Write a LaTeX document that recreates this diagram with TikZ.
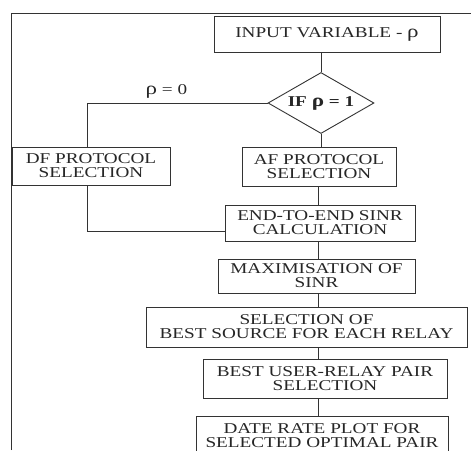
\documentclass[tikz,border=0pt]{standalone}
\usepackage{fontspec}
\setmainfont{Liberation Serif}[FakeStretch=1.28]
\usetikzlibrary{shapes.geometric}
\tikzset{
  fc/.style={x=1pt, y=-1pt, line width=0.9pt, draw=black!80,
             every node/.style={font=\fontsize{15}{14}\selectfont, text=black!85, align=center, inner sep=0pt}},
  blk/.style={draw, rectangle},
  dec/.style={draw, diamond, shape aspect=1.7, minimum width=106, minimum height=61},
  lbl/.style={draw=none, fill=none}
}
\newcommand{\bigrho}{{\fontsize{18}{14}\selectfont ρ}}

\begin{document}
\begin{tikzpicture}[fc]
\clip (0,0) rectangle (471,450);
\draw (11,450) -- (11,13) -- (471,13);
\node[blk, minimum width=226, minimum height=36] (inp) at (327,34) {INPUT VARIABLE - \bigrho};
\node[dec] (if) at (321,103) {\bfseries IF \bigrho{} = 1};
\node[blk, minimum width=158, minimum height=38] (df) at (91,166) {DF PROTOCOL\\SELECTION};
\node[blk, minimum width=154, minimum height=39] (af) at (319,166.5) {AF PROTOCOL\\SELECTION};
\node[blk, minimum width=190, minimum height=36] (e2e) at (320,223) {END-TO-END SINR\\CALCULATION};
\node[blk, minimum width=197, minimum height=34] (max) at (316.5,276) {MAXIMISATION OF\\SINR};
\node[blk, minimum width=321, minimum height=40] (sel) at (306.5,327) {SELECTION OF\\BEST SOURCE FOR EACH RELAY};
\node[blk, minimum width=244, minimum height=39] (best) at (325,378.5) {BEST USER-RELAY PAIR\\SELECTION};
\node[blk, minimum width=252, minimum height=40] (rate) at (322,436) {DATE RATE PLOT FOR\\SELECTED OPTIMAL PAIR};
\coordinate (dfx) at (87,0);
\coordinate (sp) at (318,0);
\draw (if.north) -- (if.north |- inp.south);
\draw (if.west) -| node[lbl, pos=0.28, above=4pt] (rho0) {\bigrho{} = 0} (dfx |- df.north);
\draw (if.south) -- (if.south |- af.north);
\draw (dfx |- df.south) |- ([yshift=-8pt]e2e.west);
\foreach \a/\b in {af/e2e, e2e/max, max/sel, sel/best, best/rate}
  \draw (sp |- \a.south) -- (sp |- \b.north);
\end{tikzpicture}
\end{document}
